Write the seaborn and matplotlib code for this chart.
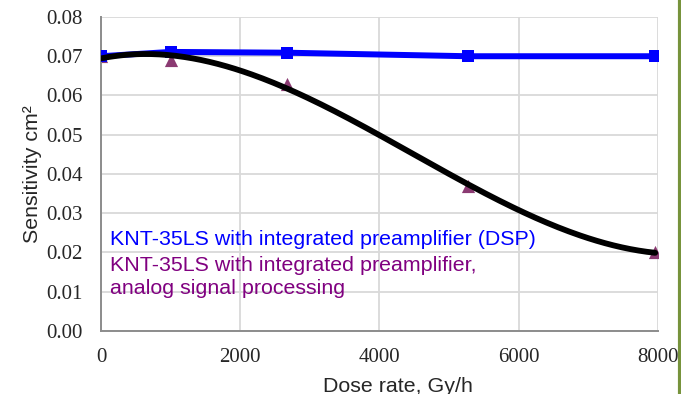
import numpy as np
import pandas as pd
import seaborn as sns
import matplotlib.pyplot as plt

# dose rate, Gy/h
dose_rate = [0, 1000, 2670, 5270, 7960]
# KNT-35LS with integrated preamplifier (DSP)
sens_dsp = [0.0700, 0.0711, 0.0709, 0.0700, 0.0700]
# KNT-35LS with integrated preamplifier, analog signal processing
sens_analog = [0.0700, 0.0690, 0.0628, 0.0370, 0.0200]

label_dsp = "KNT-35LS with integrated preamplifier (DSP)"
label_analog = "KNT-35LS with integrated preamplifier,\nanalog signal processing"

df = pd.DataFrame({"dose": dose_rate, "dsp": sens_dsp, "analog": sens_analog})

# 3rd order polynomial trendline through the analog points
coef = np.polyfit(df["dose"], df["analog"], 3)
xs = np.linspace(0, 7960, 200)
trend = pd.DataFrame({"dose": xs, "fit": np.polyval(coef, xs)})

sns.set_style("white")
plt.rcParams["font.family"] = ["Liberation Sans", "DejaVu Sans"]

fig = plt.figure(figsize=(6.81, 3.94), dpi=100)
ax = fig.add_axes([0.1483, 0.1599, 0.8179, 0.7970])

blue = "#0000FF"
purple = "#8B3A72"

sns.lineplot(data=df, x="dose", y="dsp", ax=ax, color=blue, linewidth=4.3,
             marker="s", markersize=9, markeredgewidth=0, zorder=3)
sns.lineplot(data=trend, x="dose", y="fit", ax=ax, color="black", linewidth=4.2, zorder=4)
sns.scatterplot(data=df, x="dose", y="analog", ax=ax, color=purple, marker="^",
                s=90, linewidth=0, zorder=2)

ax.set_xlim(0, 8000)
ax.set_ylim(0, 0.08)
ax.set_xticks(np.arange(0, 8001, 2000))
ax.set_yticks(np.arange(0, 0.081, 0.01))
ax.set_yticklabels([f"{v:.2f}" for v in np.arange(0, 0.081, 0.01)])

for lab in ax.get_xticklabels() + ax.get_yticklabels():
    lab.set_family("Liberation Serif")
    lab.set_fontsize(15)
ax.tick_params(axis="y", length=0, pad=13)
ax.tick_params(axis="x", length=0, pad=12)

ax.grid(True, color="#D9D9D9", linewidth=1.3)
ax.set_axisbelow(True)
for side in ["top", "right"]:
    ax.spines[side].set_visible(False)
ax.spines["left"].set_color("#8C8C8C")
ax.spines["bottom"].set_color("#8C8C8C")
ax.spines["left"].set_linewidth(1.4)
ax.spines["bottom"].set_linewidth(1.4)

ax.set_xlabel("Dose rate, Gy/h", fontsize=15.4)
ax.xaxis.set_label_coords(0.533, -0.145)
ax.set_ylabel("Sensitivity cm²", fontsize=15.4, labelpad=3)

ax.text(130, 0.0232, label_dsp, color=blue, fontsize=15.4, va="center", ha="left")
ax.text(130, 0.0138, label_analog, color="#800080", fontsize=15.4, va="center",
        ha="left", linespacing=1.3)

# green frame edge on the right
fig.add_artist(plt.Line2D([0.9985, 0.9985], [0, 1], color="#77933C", linewidth=3,
                          transform=fig.transFigure))

fig.savefig("out.png", dpi=100)
